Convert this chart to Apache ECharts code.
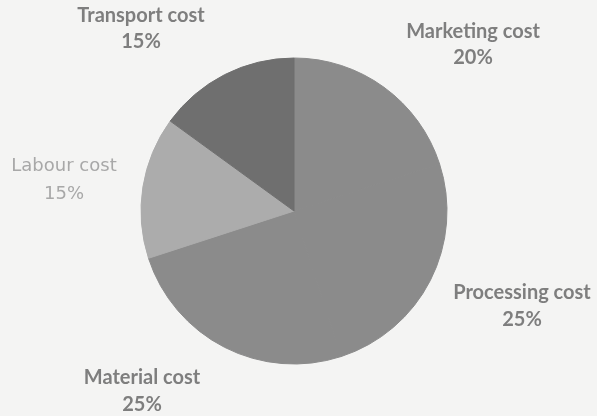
<!DOCTYPE html>
<html>
<head>
<meta charset="utf-8">
<script src="https://cdn.jsdelivr.net/npm/echarts@6/dist/echarts.min.js"></script>
<style>
html,body{margin:0;padding:0;background:#f4f4f3;}
#chart{width:597px;height:416px;}
</style>
</head>
<body>
<div id="chart"></div>
<script>
var categories = ['Marketing cost', 'Processing cost', 'Material cost', 'Labour cost', 'Transport cost'];
var values = [20, 25, 25, 15, 15];

var sliceColors = ['#8b8b8b', '#8b8b8b', '#8b8b8b', '#acacac', '#6f6f6f'];
var labelColors = ['#7e7e7e', '#7e7e7e', '#7e7e7e', '#a8a8a8', '#7e7e7e'];
var labelWeights = ['bold', 'bold', 'bold', 'normal', 'bold'];
var labelFonts = ['Lato', 'Lato', 'Lato', 'DejaVu Sans', 'Lato'];
var labelSizes = [20, 20, 20, 18, 20];
var labelLineHeights = [26, 27, 27, 28, 26];
var labelSpots = [[473, 45], [522, 306], [142, 391], [64, 180], [141, 29]];

var chart = echarts.init(document.getElementById('chart'));
chart.setOption({
  backgroundColor: '#f4f4f3',
  animation: false,
  series: [{
    type: 'pie',
    center: [294, 211],
    radius: 153,
    startAngle: 90,
    clockwise: true,
    data: categories.map(function (c, i) {
      return {
        name: c,
        value: values[i],
        itemStyle: { color: sliceColors[i], borderColor: sliceColors[i], borderWidth: 1 },
        label: {
          color: labelColors[i],
          fontWeight: labelWeights[i],
          fontFamily: labelFonts[i],
          fontSize: labelSizes[i],
          lineHeight: labelLineHeights[i]
        }
      };
    }),
    label: {
      show: true,
      position: 'outside',
      formatter: '{b}\n{d}%',
      align: 'center',
      overflow: 'none',
      width: 300
    },
    labelLine: { show: false },
    labelLayout: function (p) {
      var s = labelSpots[p.dataIndex];
      return { x: s[0], y: s[1], align: 'center', verticalAlign: 'middle', hideOverlap: false };
    },
    emphasis: { disabled: true }
  }]
});
</script>
</body>
</html>
